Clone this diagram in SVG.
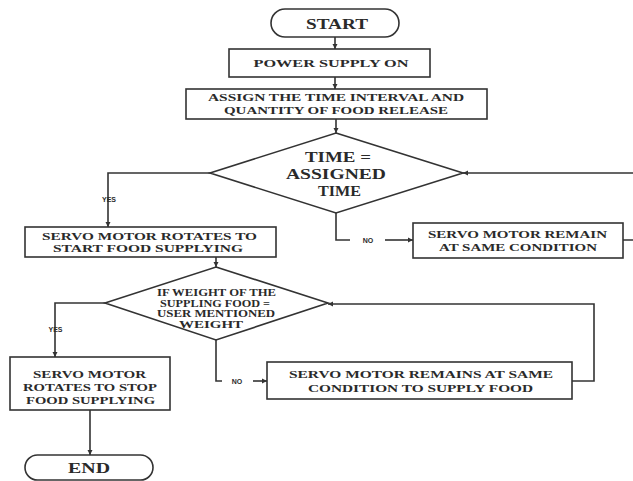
<svg xmlns="http://www.w3.org/2000/svg" width="633" height="481" viewBox="0 0 633 481">
<style>
.shape{fill:#fff;stroke:#333;stroke-width:1.6}
.ln{fill:none;stroke:#333;stroke-width:1.6}
.t{font-family:"Liberation Serif","Times New Roman",serif;font-weight:bold;fill:#2a2a2a;text-anchor:middle}
.s{font-family:"Liberation Sans",Arial,sans-serif;font-weight:bold;fill:#2a2a2a;text-anchor:middle;font-size:7px}
</style>
<defs>
<marker id="ah" markerWidth="6" markerHeight="6" refX="5" refY="3" orient="auto" markerUnits="userSpaceOnUse">
<path d="M0,0.5 L5,3 L0,5.5 Z" fill="#333"/>
</marker>
</defs>
<rect width="633" height="481" fill="#fff"/>
<g id="connectors">
<path class="ln" d="M335 37 V49" marker-end="url(#ah)"/>
<path class="ln" d="M335 77 V89" marker-end="url(#ah)"/>
<path class="ln" d="M336 119 V133" marker-end="url(#ah)"/>
<path class="ln" d="M210 173 H108 V227" marker-end="url(#ah)"/>
<path class="ln" d="M336 213 V240 H350"/>
<path class="ln" d="M385 240 H413" marker-end="url(#ah)"/>
<path class="ln" d="M623 240 H640 V173 H463" marker-end="url(#ah)"/>
<path class="ln" d="M216 257 V267" marker-end="url(#ah)"/>
<path class="ln" d="M105 303 H55 V357" marker-end="url(#ah)"/>
<path class="ln" d="M216 340 V381 H222"/>
<path class="ln" d="M253 381 H267" marker-end="url(#ah)"/>
<path class="ln" d="M572 381 H594 V304 H328" marker-end="url(#ah)"/>
<path class="ln" d="M90 410 V455" marker-end="url(#ah)"/>
<text class="s" x="109" y="202">YES</text>
<text class="s" x="368" y="243">NO</text>
<text class="s" x="55.5" y="332">YES</text>
<text class="s" x="237" y="384">NO</text>
</g>
<g id="start">
<rect class="shape" x="271" y="9" width="128" height="28" rx="14"/>
<text class="t" x="337" y="29" font-size="15" textLength="62" lengthAdjust="spacingAndGlyphs">START</text>
</g>
<g id="power">
<rect class="shape" x="229" y="49" width="201" height="28"/>
<text class="t" x="331" y="67" font-size="11" textLength="155" lengthAdjust="spacingAndGlyphs">POWER SUPPLY ON</text>
</g>
<g id="assign">
<rect class="shape" x="186" y="89" width="301" height="30"/>
<text class="t" x="336" y="101" font-size="10" textLength="256" lengthAdjust="spacingAndGlyphs">ASSIGN THE TIME INTERVAL AND</text>
<text class="t" x="336" y="114" font-size="10" textLength="224" lengthAdjust="spacingAndGlyphs">QUANTITY OF FOOD RELEASE</text>
</g>
<g id="time-check">
<polygon class="shape" points="336,133 463,173 336,213 210,173"/>
<text class="t" x="338" y="162" font-size="15" textLength="66" lengthAdjust="spacingAndGlyphs">TIME =</text>
<text class="t" x="336" y="179" font-size="15" textLength="100" lengthAdjust="spacingAndGlyphs">ASSIGNED</text>
<text class="t" x="339.5" y="196" font-size="15" textLength="43" lengthAdjust="spacingAndGlyphs">TIME</text>
</g>
<g id="servo-start">
<rect class="shape" x="25" y="227" width="251" height="30"/>
<text class="t" x="149.5" y="240" font-size="11" textLength="215" lengthAdjust="spacingAndGlyphs">SERVO MOTOR ROTATES TO</text>
<text class="t" x="148" y="252" font-size="11" textLength="190" lengthAdjust="spacingAndGlyphs">START FOOD SUPPLYING</text>
</g>
<g id="servo-remain">
<rect class="shape" x="413" y="223" width="210" height="35"/>
<text class="t" x="517.5" y="238" font-size="11" textLength="179" lengthAdjust="spacingAndGlyphs">SERVO MOTOR REMAIN</text>
<text class="t" x="518" y="251" font-size="11" textLength="158" lengthAdjust="spacingAndGlyphs">AT SAME CONDITION</text>
</g>
<g id="weight-check">
<polygon class="shape" points="216,267 328,303 216,340 105,303"/>
<text class="t" x="216.5" y="296" font-size="10" textLength="119" lengthAdjust="spacingAndGlyphs">IF WEIGHT OF THE</text>
<text class="t" x="215" y="306.5" font-size="10" textLength="110" lengthAdjust="spacingAndGlyphs">SUPPLING FOOD =</text>
<text class="t" x="216" y="317" font-size="10" textLength="118" lengthAdjust="spacingAndGlyphs">USER MENTIONED</text>
<text class="t" x="211" y="328" font-size="10" textLength="64" lengthAdjust="spacingAndGlyphs">WEIGHT</text>
</g>
<g id="servo-stop">
<rect class="shape" x="10" y="357" width="160" height="53"/>
<text class="t" x="89.5" y="378" font-size="11" textLength="113" lengthAdjust="spacingAndGlyphs">SERVO MOTOR</text>
<text class="t" x="90" y="391" font-size="11" textLength="134" lengthAdjust="spacingAndGlyphs">ROTATES TO STOP</text>
<text class="t" x="90.5" y="404" font-size="11" textLength="129" lengthAdjust="spacingAndGlyphs">FOOD SUPPLYING</text>
</g>
<g id="servo-remains">
<rect class="shape" x="267" y="362" width="305" height="37"/>
<text class="t" x="421" y="378" font-size="11" textLength="264" lengthAdjust="spacingAndGlyphs">SERVO MOTOR REMAINS AT SAME</text>
<text class="t" x="420.5" y="392" font-size="11" textLength="225" lengthAdjust="spacingAndGlyphs">CONDITION TO SUPPLY FOOD</text>
</g>
<g id="end">
<rect class="shape" x="25" y="455" width="128" height="25" rx="12.5"/>
<text class="t" x="89" y="473" font-size="15" textLength="42" lengthAdjust="spacingAndGlyphs">END</text>
</g>
</svg>
